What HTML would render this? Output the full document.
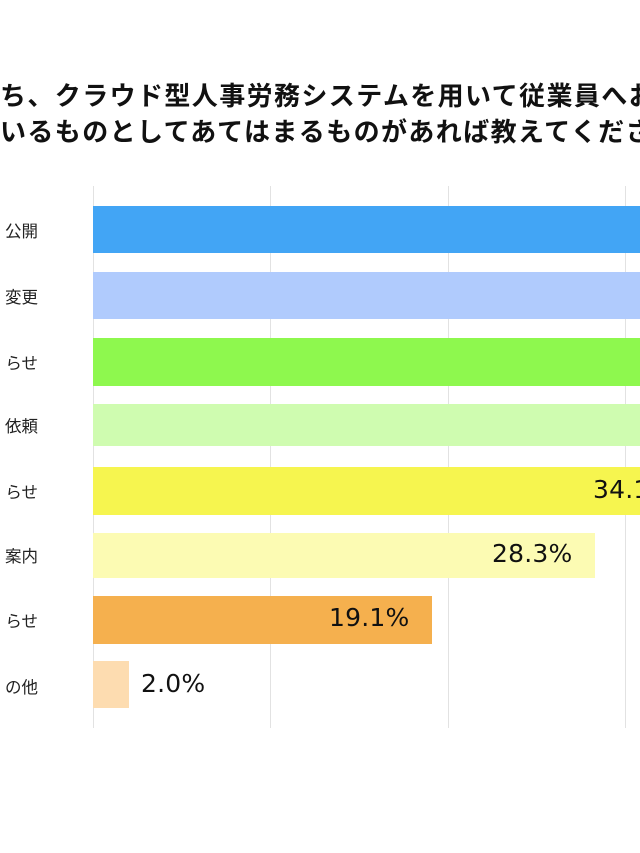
<!DOCTYPE html>
<html><head><meta charset="utf-8"><style>
body{margin:0;width:640px;height:853px;overflow:hidden;background:#fff;position:relative;font-family:"Liberation Sans","Noto Sans CJK JP",sans-serif;}
.t{position:absolute;left:0;white-space:nowrap;font-weight:bold;font-size:26px;color:#111;letter-spacing:1.4px}
.g{position:absolute;top:186px;height:542px;width:1px;background:#e2e2e2}
.b{position:absolute;left:93px}
.l{position:absolute;right:602px;font-size:16.5px;color:#222;white-space:nowrap}
.v{position:absolute;font-size:25px;letter-spacing:0.2px;color:#111;white-space:nowrap;font-family:"DejaVu Sans","Liberation Sans",sans-serif}
</style></head><body>
<div class="t" style="top:76px">ち、クラウド型人事労務システムを用いて従業員へお</div>
<div class="t" style="top:112px">いるものとしてあてはまるものがあれば教えてくださ</div>
<div class="g" style="left:93px"></div>
<div class="g" style="left:270px"></div>
<div class="g" style="left:448px"></div>
<div class="g" style="left:625px"></div>
<div class="b" style="top:206px;height:47px;width:547px;background:#42a5f5"></div>
<div class="b" style="top:272px;height:47px;width:547px;background:#b0cbfd"></div>
<div class="b" style="top:338px;height:48px;width:547px;background:#8ef84e"></div>
<div class="b" style="top:404px;height:42px;width:547px;background:#cffcb0"></div>
<div class="b" style="top:467px;height:48px;width:547px;background:#f6f54f"></div>
<div class="b" style="top:533px;height:45px;width:502px;background:#fcfbb3"></div>
<div class="b" style="top:596px;height:48px;width:339px;background:#f5b04e"></div>
<div class="b" style="top:661px;height:47px;width:36px;background:#fddcb0"></div>
<div class="l" style="top:218px">公開</div>
<div class="l" style="top:284px">変更</div>
<div class="l" style="top:350px">らせ</div>
<div class="l" style="top:413px">依頼</div>
<div class="l" style="top:479px">らせ</div>
<div class="l" style="top:543px">案内</div>
<div class="l" style="top:608px">らせ</div>
<div class="l" style="top:674px">の他</div>
<div class="v" style="left:593px;top:475px">34.1%</div>
<div class="v" style="left:492px;top:539px">28.3%</div>
<div class="v" style="left:329px;top:603px">19.1%</div>
<div class="v" style="left:141px;top:669px">2.0%</div>
</body></html>
